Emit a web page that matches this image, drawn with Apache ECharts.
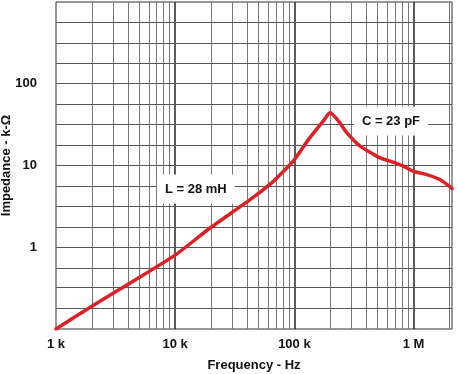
<!DOCTYPE html>
<html>
<head>
<meta charset="utf-8">
<script src="https://cdn.jsdelivr.net/npm/echarts@6/dist/echarts.min.js"></script>
<style>
html,body{margin:0;padding:0;background:#fff;}
#chart{width:458px;height:374px;}
</style>
</head>
<body>
<div id="chart"></div>
<script>
// Frequency (Hz) and impedance (kΩ)
var freq = [1000, 2000, 4000, 10000, 19600, 42500, 66700, 83600, 98000, 105000, 135000, 175000, 199000, 234000, 275000, 356000, 523000, 634000, 820000, 994000, 1290000, 1660000, 2080000, 2100000];
var imp  = [0.1, 0.19, 0.35, 0.8, 1.72, 3.82, 6.4, 8.9, 11.3, 13.0, 21.9, 35.1, 44.5, 35.1, 25.3, 17.3, 12.4, 11.3, 9.8, 8.5, 7.75, 6.73, 5.32, 5.2];

var xTickLabels = {3: '1 k', 4: '10 k', 5: '100 k', 6: '1 M'};
var yTickLabels = {0: '1', 1: '10', 2: '100'};

var xMin = 1000, xMax = 2100000, yMin = 0.1, yMax = 1000;

// grid lines: 1..9 per decade on x, 4 equal log steps per decade on y
var xDecades = [1000, 10000, 100000, 1000000];
var xMultipliers = [1, 2, 3, 4, 5, 6, 7, 8, 9];
var yGridExponents = [-0.75, -0.5, -0.25, 0, 0.25, 0.5, 0.75, 1, 1.25, 1.5, 1.75, 2, 2.25, 2.5, 2.75];

var annotations = [
  {name: 'L = 28 mH', f: 14900, z: 5.16},
  {name: 'C = 23 pF', f: 646000, z: 35}
];

var gridLines = [];
xDecades.forEach(function (d) {
  xMultipliers.forEach(function (m) {
    var v = d * m;
    if (v <= xMin || v >= xMax) return;
    var major = (m === 1);
    gridLines.push({xAxis: v, lineStyle: {color: major ? '#333' : '#777', width: major ? 1.6 : 1, type: 'solid'}});
  });
});
yGridExponents.forEach(function (e) {
  gridLines.push({yAxis: Math.pow(10, e), lineStyle: {color: '#555', width: 1, type: 'solid'}});
});

var data = freq.map(function (f, i) { return [f, imp[i]]; });

var font = '"Liberation Sans", Arial, sans-serif';

var chart = echarts.init(document.getElementById('chart'), null, {renderer: 'canvas'});
chart.setOption({
  animation: false,
  backgroundColor: '#fff',
  grid: {left: 56, right: 6, top: 2, bottom: 45, containLabel: false, outerBoundsMode: 'none', show: true, borderColor: '#333', borderWidth: 1, backgroundColor: 'transparent'},
  xAxis: {
    type: 'log', logBase: 10, min: xMin, max: xMax,
    name: 'Frequency - Hz', nameLocation: 'middle', nameGap: 30, nameMoveOverlap: false,
    nameTextStyle: {fontFamily: font, fontWeight: 'bold', fontSize: 13, color: '#111'},
    axisLine: {show: false}, axisTick: {show: false}, splitLine: {show: false},
    axisLabel: {
      margin: 9, fontFamily: font, fontWeight: 'bold', fontSize: 13, color: '#111',
      showMaxLabel: false,
      formatter: function (v) {
        var e = Math.log10(v), r = Math.round(e);
        return (Math.abs(e - r) < 1e-6 && xTickLabels[r]) ? xTickLabels[r] : '';
      }
    }
  },
  yAxis: {
    type: 'log', logBase: 10, min: yMin, max: yMax,
    name: 'Impedance - k-Ω', nameLocation: 'middle', nameGap: 43, nameMoveOverlap: false,
    nameTextStyle: {fontFamily: font, fontWeight: 'bold', fontSize: 13, color: '#111'},
    axisLine: {show: false}, axisTick: {show: false}, splitLine: {show: false},
    axisLabel: {
      margin: 19, fontFamily: font, fontWeight: 'bold', fontSize: 13, color: '#111',
      formatter: function (v) {
        var e = Math.log10(v), r = Math.round(e);
        return (Math.abs(e - r) < 1e-6 && yTickLabels[r] !== undefined) ? yTickLabels[r] : '';
      }
    }
  },
  series: [
    {
      type: 'line', data: [], z: 1, silent: true,
      markLine: {silent: true, symbol: ['none', 'none'], label: {show: false}, emphasis: {disabled: true}, data: gridLines, animation: false}
    },
    {
      type: 'line', data: data, z: 5, showSymbol: false, smooth: 0.15,
      lineStyle: {color: '#dd1f26', width: 3.5, cap: 'round', join: 'round'},
      itemStyle: {color: '#dd1f26'},
      markPoint: {
        silent: true, symbol: 'rect', symbolSize: 1, itemStyle: {color: 'rgba(0,0,0,0)'},
        label: {
          show: true, position: 'inside', formatter: '{b}',
          fontFamily: font, fontWeight: 'bold', fontSize: 13, color: '#111',
          backgroundColor: '#fff', padding: [8, 8]
        },
        data: annotations.map(function (a) { return {name: a.name, coord: [a.f, a.z]}; })
      }
    }
  ]
});
</script>
</body>
</html>
